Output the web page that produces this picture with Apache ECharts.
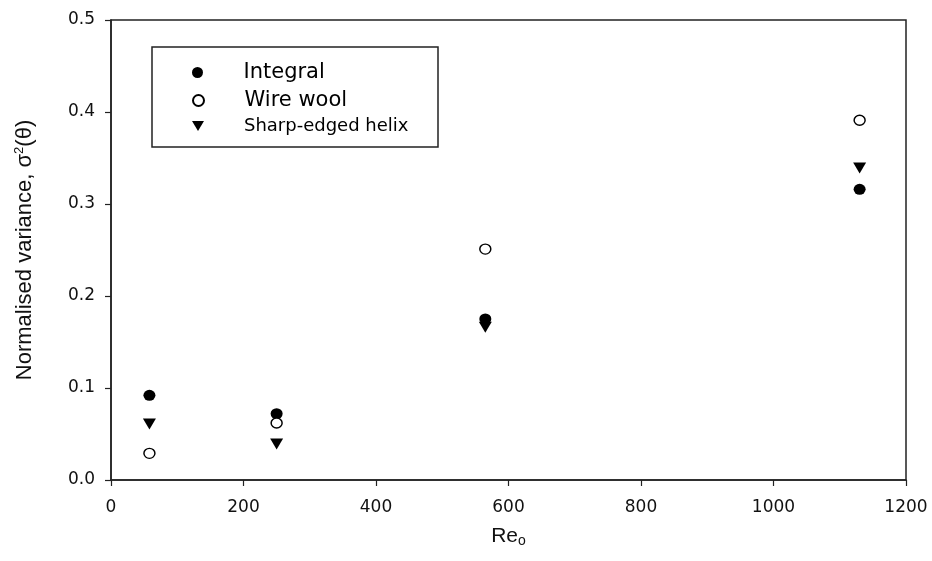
<!DOCTYPE html>
<html>
<head>
<meta charset="utf-8">
<script src="https://cdn.jsdelivr.net/npm/echarts@6/dist/echarts.min.js"></script>
<style>
  html, body { margin: 0; padding: 0; background: #fff; }
  #chart { width: 932px; height: 561px; }
</style>
</head>
<body>
<div id="chart"></div>
<script>
// Reynolds numbers and normalised variance for each packing type
const reynolds = [58, 250, 565, 1130];
const integral = [0.092, 0.072, 0.175, 0.316];
const wireWool = [0.029, 0.062, 0.251, 0.391];
const helix = [0.061, 0.039, 0.166, 0.339];

const xTicks = [0, 200, 400, 600, 800, 1000, 1200];
const yTicks = [0.0, 0.1, 0.2, 0.3, 0.4, 0.5];

const pairs = (ys) => reynolds.map((x, i) => [x, ys[i]]);
const font = '"Liberation Sans", Arial, sans-serif';
const wideFont = '"DejaVu Sans", Verdana, sans-serif';
const triangleDown = 'path://M0,0 L12,0 L6,10 Z';

const legendText = (size) => ({
  fontFamily: wideFont, fontSize: size, color: '#000', padding: [0, 0, 0, 35]
});

const chart = echarts.init(document.getElementById('chart'));
chart.setOption({
  animation: false,
  backgroundColor: '#ffffff',
  grid: {
    left: 111, right: 26, top: 20, bottom: 81,
    show: true, borderColor: '#222', borderWidth: 1.5
  },
  graphic: [{
    type: 'rect',
    shape: { x: 152, y: 47, width: 286, height: 100 },
    style: { fill: '#fff', stroke: '#222', lineWidth: 1.5 },
    z: 5
  }],
  legend: [
    { data: ['Integral'], left: 187, top: 57, itemWidth: 12, itemHeight: 11, itemGap: 0,
      textStyle: legendText(21), z: 10 },
    { data: ['Wire wool'], left: 187, top: 85, itemWidth: 12, itemHeight: 11, itemGap: 0,
      textStyle: legendText(21), z: 10 },
    { data: ['Sharp-edged helix'], left: 187, top: 112, itemWidth: 12, itemHeight: 10, itemGap: 0,
      textStyle: legendText(18), z: 10 }
  ],
  xAxis: {
    type: 'value', min: 0, max: 1200, interval: 200,
    splitLine: { show: false },
    axisLine: { lineStyle: { color: '#222', width: 1.5 } },
    axisTick: { inside: false, length: 6, lineStyle: { color: '#222', width: 1.2 } },
    axisLabel: { fontFamily: wideFont, fontSize: 17, color: '#111', margin: 19,
      formatter: (v) => xTicks.includes(v) ? String(v) : '' },
    name: '{t|Re}{sub|o}',
    nameLocation: 'middle',
    nameGap: 44,
    nameTextStyle: {
      fontFamily: font, fontSize: 21, color: '#111',
      rich: {
        t: { fontFamily: font, fontSize: 21, color: '#111' },
        sub: { fontFamily: font, fontSize: 14, color: '#111', verticalAlign: 'bottom', padding: [10, 0, 0, 0] }
      }
    }
  },
  yAxis: {
    type: 'value', min: 0, max: 0.5, interval: 0.1,
    splitLine: { show: false },
    axisLine: { lineStyle: { color: '#222', width: 1.5 } },
    axisTick: { inside: false, length: 6, lineStyle: { color: '#222', width: 1.2 } },
    axisLabel: { fontFamily: wideFont, fontSize: 17, color: '#111', margin: 16,
      formatter: (v) => yTicks.some(t => Math.abs(t - v) < 1e-9) ? v.toFixed(1) : '' },
    name: '{t|Normalised variance, σ}{sup|2}{t|(θ)}',
    nameLocation: 'middle',
    nameRotate: 90,
    nameGap: 75,
    nameTextStyle: {
      fontFamily: font, fontSize: 22, color: '#111',
      rich: {
        t: { fontFamily: font, fontSize: 22, color: '#111' },
        sup: { fontFamily: font, fontSize: 13, color: '#111', verticalAlign: 'top', padding: [0, 0, 10, 0] }
      }
    }
  },
  series: [
    { name: 'Integral', type: 'scatter', data: pairs(integral),
      symbol: 'circle', symbolSize: [12, 11],
      itemStyle: { color: '#000', borderColor: '#000', borderWidth: 0, opacity: 1 } },
    { name: 'Wire wool', type: 'scatter', data: pairs(wireWool),
      symbol: 'circle', symbolSize: [11, 10],
      itemStyle: { color: '#fff', borderColor: '#000', borderWidth: 1.4, opacity: 1 } },
    { name: 'Sharp-edged helix', type: 'scatter', data: pairs(helix),
      symbol: triangleDown, symbolSize: [13, 11],
      itemStyle: { color: '#000', opacity: 1 } }
  ]
});
</script>
</body>
</html>
